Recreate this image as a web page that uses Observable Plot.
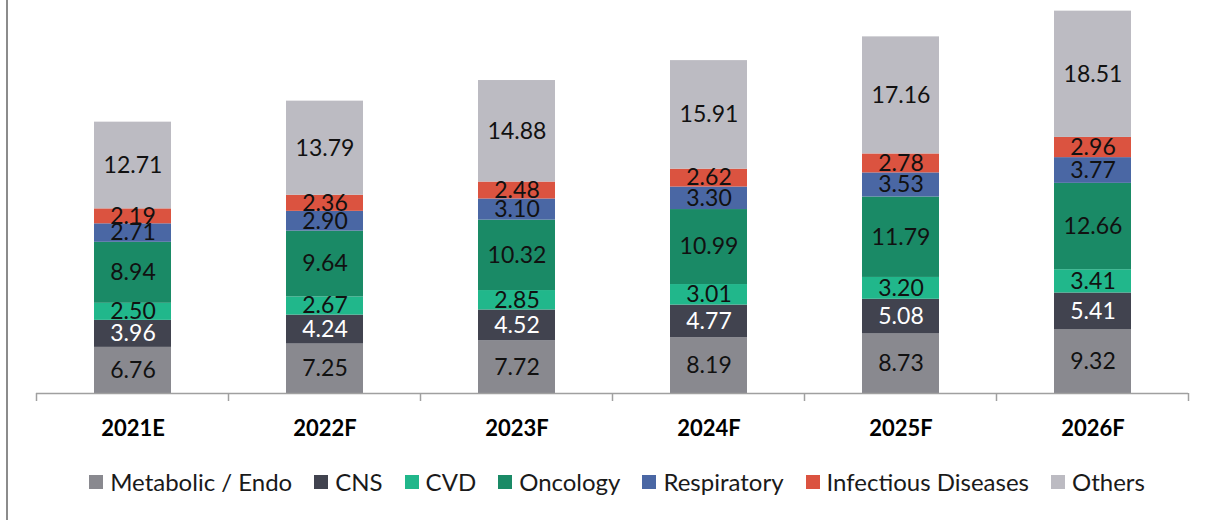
<!DOCTYPE html>
<html>
<head>
<meta charset="utf-8">
<script src="https://cdn.jsdelivr.net/npm/d3@7"></script>
<script src="https://cdn.jsdelivr.net/npm/@observablehq/plot@0.6"></script>
<style>
  html, body { margin: 0; padding: 0; background: #fff; }
  body { width: 1210px; height: 520px; position: relative; overflow: hidden; font-family: Lato, "Noto Sans", sans-serif; }
  #frame { position: absolute; left: 6px; top: 0; width: 2px; height: 520px; background: #8c8c8c; }
  #chart { position: absolute; left: 0; top: 0; }
  #legend { position: absolute; left: 0; top: 467px; width: 1210px; display: flex; justify-content: center; padding-left: 24px; box-sizing: border-box; gap: 22px; font-size: 24px; color: #1a1a1a; }
  .item { display: flex; align-items: center; }
  .sw { width: 14px; height: 14px; margin-right: 7px; }
</style>
</head>
<body>
<div id="frame"></div>
<div id="chart"></div>
<div id="legend"></div>
<script>
const years = ["2021E", "2022F", "2023F", "2024F", "2025F", "2026F"];
const seriesNames = ["Metabolic / Endo", "CNS", "CVD", "Oncology", "Respiratory", "Infectious Diseases", "Others"];
const seriesColors = ["#89898f", "#41434f", "#21b78b", "#1a8a66", "#4a67a4", "#db5340", "#bcbbc2"];
const metabolic   = [6.76, 7.25, 7.72, 8.19, 8.73, 9.32];
const cns         = [3.96, 4.24, 4.52, 4.77, 5.08, 5.41];
const cvd         = [2.50, 2.67, 2.85, 3.01, 3.20, 3.41];
const oncology    = [8.94, 9.64, 10.32, 10.99, 11.79, 12.66];
const respiratory = [2.71, 2.90, 3.10, 3.30, 3.53, 3.77];
const infectious  = [2.19, 2.36, 2.48, 2.62, 2.78, 2.96];
const others      = [12.71, 13.79, 14.88, 15.91, 17.16, 18.51];

const seriesValues = [metabolic, cns, cvd, oncology, respiratory, infectious, others];
const data = [];
years.forEach((yr, i) => {
  seriesNames.forEach((s, j) => data.push({year: yr, series: s, value: seriesValues[j][i]}));
});

const stackOpts = {x: "year", y: "value", z: "series", order: seriesNames};

const chart = Plot.plot({
  width: 1210,
  height: 450,
  marginLeft: 36,
  marginRight: 22,
  marginTop: 0,
  marginBottom: 57,
  style: {fontFamily: "Lato, 'Noto Sans', sans-serif", background: "transparent"},
  x: {domain: years, paddingInner: 0.6, paddingOuter: 0.3, label: null},
  y: {domain: [0, 57.6], axis: null},
  color: {domain: seriesNames, range: seriesColors},
  marks: [
    Plot.barY(data, Plot.stackY({...stackOpts, fill: "series"})),
    Plot.text(data, Plot.stackY({...stackOpts,
      text: d => d.series === "CNS" ? null : d.value.toFixed(2), fill: "#111", fontSize: 23})),
    Plot.text(data, Plot.stackY({...stackOpts,
      text: d => d.series === "CNS" ? d.value.toFixed(2) : null, fill: "#fff", fontSize: 23})),
    Plot.ruleY([0], {stroke: "#a0a0a0", strokeWidth: 1.5}),
    Plot.axisX({tickSize: 0, tickPadding: 27, fontSize: 22, fontWeight: "bold", fill: "#000", label: null})
  ]
});
document.getElementById("chart").appendChild(chart);

// category boundary ticks from the x band scale
const xs = chart.scale("x");
const yz = chart.scale("y").apply(0);
const half = (xs.step - xs.bandwidth) / 2;
const edges = xs.domain.map(d => xs.apply(d) - half);
edges.push(xs.apply(xs.domain[xs.domain.length - 1]) + xs.bandwidth + half);
d3.select(chart).append("g")
  .selectAll("line").data(edges).join("line")
  .attr("x1", d => d).attr("x2", d => d)
  .attr("y1", yz).attr("y2", yz + 8)
  .attr("stroke", "#a0a0a0").attr("stroke-width", 1.5);

// legend
const legend = d3.select("#legend");
seriesNames.forEach((s, i) => {
  const it = legend.append("div").attr("class", "item");
  it.append("div").attr("class", "sw").style("background", seriesColors[i]);
  it.append("span").text(s);
});
</script>
</body>
</html>
